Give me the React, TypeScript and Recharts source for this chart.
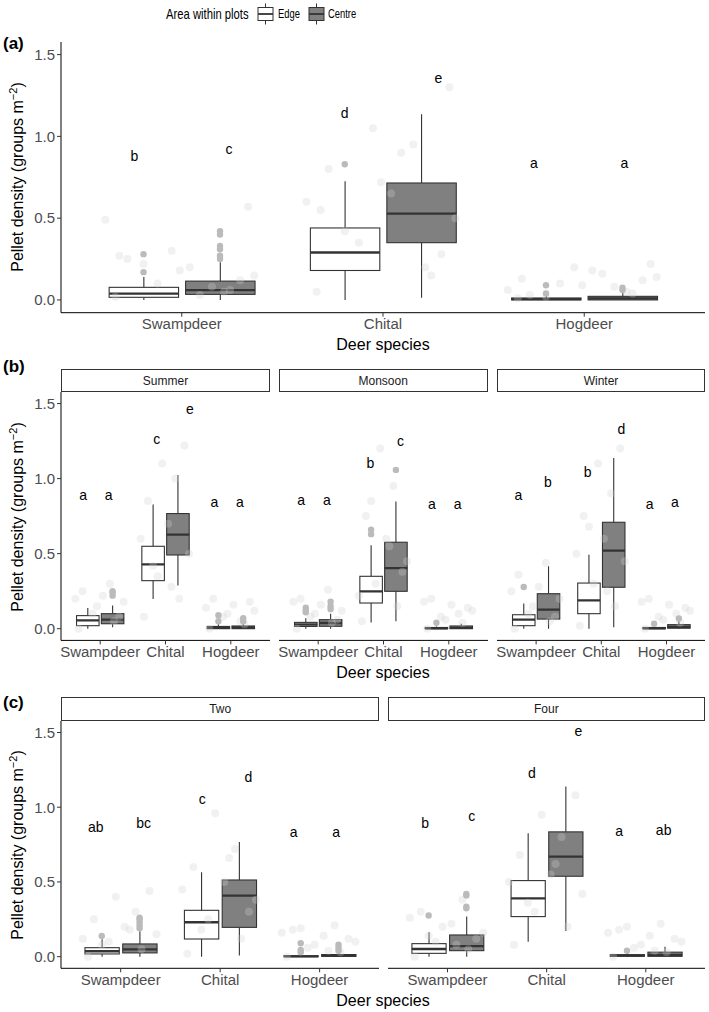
import React from 'react';
import { ComposedChart, Bar, Scatter, XAxis, YAxis } from 'recharts';

const FONT = "'Liberation Sans', Arial, Helvetica, sans-serif";

const species = ['Swampdeer', 'Chital', 'Hogdeer'];
const yTicks = [0, 0.5, 1, 1.5];

// horizontal jitter used for the raw plot points (category units)
const jitterDx = [-0.33, 0.21, -0.12, 0.36, 0.04, -0.27, 0.15, -0.05, 0.29, -0.38, 0.09, -0.19, 0.33, -0.01, 0.24, -0.31];

// boxes are [min, q1, median, q3, max] per species
// (a) pooled
const allEdge = [[0, 0.016, 0.038, 0.077, 0.14], [0, 0.18, 0.29, 0.44, 0.725], [0, 0, 0.005, 0.012, 0.025]];
const allCentre = [[0, 0.034, 0.06, 0.115, 0.23], [0.014, 0.35, 0.528, 0.715, 1.136], [0, 0, 0.01, 0.022, 0.045]];
const allEdgeOut = [[0.17, 0.28], [0.83], [0.04, 0.09]];
const allCentreOut = [[0.25, 0.27, 0.31, 0.33, 0.4, 0.42], [], [0.06, 0.075]];
const allJitter = [
  [0.02, 0.05, 0.1, 0.15, 0.2, 0.25, 0.08, 0.3, 0.12, 0.49, 0.03, 0.22, 0.57, 0.18, 0.06, 0.27],
  [0.05, 0.2, 0.35, 0.5, 0.65, 0.8, 0.95, 1.05, 0.28, 0.6, 0.9, 0.42, 1.3, 0.72, 0.15, 0.55],
  [0.01, 0.05, 0.1, 0.14, 0.18, 0.03, 0.08, 0.2, 0.12, 0.06, 0.16, 0.02, 0.22, 0.09, 0.04, 0.13],
];
const allLetters = [['b', 'c'], ['d', 'e'], ['a', 'a']];
const allLetterY = [[0.88, 0.92], [1.14, 1.355], [0.837, 0.837]];

// (b) seasons
const summerEdge = [[0, 0.02, 0.056, 0.087, 0.138], [0.198, 0.32, 0.429, 0.549, 0.827], [0, 0, 0.006, 0.015, 0.03]];
const summerCentre = [[0.01, 0.033, 0.06, 0.1, 0.155], [0.287, 0.491, 0.627, 0.767, 1.024], [0, 0, 0.008, 0.018, 0.035]];
const summerEdgeOut = [[], [], [0.05, 0.09]];
const summerCentreOut = [[0.22, 0.24, 0.25], [], [0.05, 0.07]];
const summerJitter = [
  [0.0, 0.05, 0.1, 0.18, 0.22, 0.25, 0.3, 0.15, 0.08, 0.2],
  [0.08, 0.2, 0.35, 0.5, 0.7, 0.85, 1.0, 1.1, 1.22, 0.6, 0.28, 0.42],
  [0.0, 0.03, 0.08, 0.12, 0.16, 0.2, 0.05, 0.1, 0.18, 0.14],
];
const summerLetters = [['a', 'a'], ['c', 'e'], ['a', 'a']];
const summerLetterY = [[0.889, 0.889], [1.267, 1.467], [0.842, 0.842]];

const monsoonEdge = [[0, 0.015, 0.028, 0.042, 0.07], [0.042, 0.171, 0.249, 0.349, 0.556], [0, 0, 0.003, 0.008, 0.015]];
const monsoonCentre = [[0, 0.016, 0.038, 0.06, 0.1], [0.049, 0.249, 0.404, 0.576, 0.847], [0, 0, 0.006, 0.018, 0.033]];
const monsoonEdgeOut = [[0.11, 0.12, 0.14], [0.63, 0.66], [0.04]];
const monsoonCentreOut = [[0.13, 0.15, 0.18], [1.058], []];
const monsoonJitter = [
  [0.0, 0.04, 0.08, 0.12, 0.16, 0.2, 0.26, 0.1, 0.06, 0.18],
  [0.05, 0.15, 0.3, 0.45, 0.6, 0.75, 0.95, 1.2, 0.38, 0.22, 0.55, 0.85],
  [0.0, 0.04, 0.08, 0.12, 0.16, 0.2, 0.1, 0.06, 0.14, 0.18],
];
const monsoonLetters = [['a', 'a'], ['b', 'c'], ['a', 'a']];
const monsoonLetterY = [[0.86, 0.86], [1.104, 1.249], [0.833, 0.833]];

const winterEdge = [[0, 0.02, 0.06, 0.093, 0.167], [0, 0.1, 0.189, 0.304, 0.493], [0, 0, 0.003, 0.008, 0.015]];
const winterCentre = [[0, 0.064, 0.127, 0.233, 0.416], [0.009, 0.276, 0.52, 0.709, 1.138], [0, 0.003, 0.012, 0.027, 0.05]];
const winterEdgeOut = [[0.278], [], [0.033]];
const winterCentreOut = [[], [], [0.068]];
const winterJitter = [
  [0.0, 0.05, 0.1, 0.2, 0.28, 0.36, 0.44, 0.15, 0.08, 0.25],
  [0.02, 0.15, 0.3, 0.45, 0.6, 0.75, 0.9, 1.1, 1.2, 0.5, 0.25, 0.68],
  [0.0, 0.04, 0.08, 0.12, 0.16, 0.2, 0.1, 0.06, 0.14, 0.18],
];
const winterLetters = [['a', 'b'], ['b', 'd'], ['a', 'a']];
const winterLetterY = [[0.889, 0.978], [1.044, 1.331], [0.833, 0.842]];

// (c) two vs four
const twoEdge = [[0, 0.018, 0.036, 0.06, 0.116], [0, 0.118, 0.23, 0.31, 0.565], [0, 0, 0.002, 0.006, 0.012]];
const twoCentre = [[0, 0.025, 0.049, 0.085, 0.17], [0.007, 0.196, 0.408, 0.513, 0.768], [0, 0.002, 0.007, 0.014, 0.025]];
const twoEdgeOut = [[0.138], [], [0.03, 0.045, 0.09]];
const twoCentreOut = [[0.19, 0.21, 0.23, 0.25, 0.26], [], [0.04, 0.06, 0.08]];
const twoJitter = [
  [0.0, 0.05, 0.1, 0.15, 0.2, 0.25, 0.3, 0.4, 0.44, 0.12, 0.18, 0.08],
  [0.02, 0.12, 0.25, 0.38, 0.5, 0.6, 0.72, 0.96, 0.3, 0.45, 0.66, 0.18],
  [0.0, 0.03, 0.06, 0.1, 0.14, 0.18, 0.21, 0.08, 0.12, 0.16, 0.04, 0.19],
];
const twoLetters = [['ab', 'bc'], ['c', 'd'], ['a', 'a']];
const twoLetterY = [[0.87, 0.897], [1.054, 1.2], [0.837, 0.837]];

const fourEdge = [[0, 0.022, 0.051, 0.087, 0.163], [0.1, 0.268, 0.39, 0.509, 0.826], [0, 0.002, 0.008, 0.013, 0.022]];
const fourCentre = [[0, 0.04, 0.071, 0.145, 0.268], [0.172, 0.538, 0.67, 0.835, 1.138], [0, 0.002, 0.012, 0.03, 0.067]];
const fourEdgeOut = [[0.275], [], [0.04]];
const fourCentreOut = [[0.324, 0.335, 0.41, 0.42], [], []];
const fourJitter = [
  [0.0, 0.05, 0.1, 0.16, 0.22, 0.3, 0.38, 0.2, 0.12, 0.26, 0.08, 0.14],
  [0.08, 0.2, 0.3, 0.42, 0.55, 0.68, 0.8, 0.95, 1.08, 0.5, 0.62, 0.36],
  [0.0, 0.03, 0.06, 0.1, 0.14, 0.18, 0.22, 0.08, 0.12, 0.16, 0.04, 0.2],
];
const fourLetters = [['b', 'c'], ['d', 'e'], ['a', 'ab']];
const fourLetterY = [[0.893, 0.942], [1.232, 1.511], [0.842, 0.848]];

// layout / styling
const Y_DOMAIN: [number, number] = [-0.078, 1.577];
const BOX_W = 0.345;
const DODGE = 0.19;
const X_AXIS_H = 30;
const Y_AXIS_W = 61;
const EDGE_FILL = '#ffffff';
const CENTRE_FILL = '#808080';
const LINE = '#333333';

type Facet = {
  edge: number[][];
  centre: number[][];
  edgeOut: number[][];
  centreOut: number[][];
  jitter: number[][];
  letters: string[][];
  letterY: number[][];
  letterDx: number[][];
};

const panels: { id: string; facet: Facet; left: number; top: number; width: number; height: number; showY: boolean }[] = [
  { id: 'all', facet: { edge: allEdge, centre: allCentre, edgeOut: allEdgeOut, centreOut: allCentreOut, jitter: allJitter, letters: allLetters, letterY: allLetterY, letterDx: [[-0.235, 0.235], [-0.19, 0.275], [-0.25, 0.2]] }, left: 61, top: 42, width: 644, height: 270.7, showY: true },
  { id: 'summer', facet: { edge: summerEdge, centre: summerCentre, edgeOut: summerEdgeOut, centreOut: summerCentreOut, jitter: summerJitter, letters: summerLetters, letterY: summerLetterY, letterDx: [[-0.26, 0.13], [-0.135, 0.375], [-0.25, 0.14]] }, left: 61, top: 392.3, width: 209, height: 248.4, showY: true },
  { id: 'monsoon', facet: { edge: monsoonEdge, centre: monsoonCentre, edgeOut: monsoonEdgeOut, centreOut: monsoonCentreOut, jitter: monsoonJitter, letters: monsoonLetters, letterY: monsoonLetterY, letterDx: [[-0.26, 0.135], [-0.2, 0.26], [-0.26, 0.135]] }, left: 278.7, top: 392.3, width: 209, height: 248.4, showY: false },
  { id: 'winter', facet: { edge: winterEdge, centre: winterCentre, edgeOut: winterEdgeOut, centreOut: winterCentreOut, jitter: winterJitter, letters: winterLetters, letterY: winterLetterY, letterDx: [[-0.27, 0.18], [-0.21, 0.31], [-0.26, 0.13]] }, left: 496.7, top: 392.3, width: 208.6, height: 248.4, showY: false },
  { id: 'two', facet: { edge: twoEdge, centre: twoCentre, edgeOut: twoEdgeOut, centreOut: twoCentreOut, jitter: twoJitter, letters: twoLetters, letterY: twoLetterY, letterDx: [[-0.25, 0.23], [-0.18, 0.285], [-0.26, 0.167]] }, left: 61, top: 721, width: 318.3, height: 247.3, showY: true },
  { id: 'four', facet: { edge: fourEdge, centre: fourCentre, edgeOut: fourEdgeOut, centreOut: fourCentreOut, jitter: fourJitter, letters: fourLetters, letterY: fourLetterY, letterDx: [[-0.225, 0.245], [-0.15, 0.32], [-0.27, 0.18]] }, left: 387.7, top: 721, width: 317.3, height: 247.3, showY: false },
];

const strips = [
  { label: 'Summer', left: 61, top: 369.3, width: 209, height: 23 },
  { label: 'Monsoon', left: 278.7, top: 369.3, width: 209, height: 23 },
  { label: 'Winter', left: 496.7, top: 369.3, width: 208.6, height: 23 },
  { label: 'Two', left: 61, top: 697.3, width: 318.3, height: 23.7 },
  { label: 'Four', left: 387.7, top: 697.3, width: 317.3, height: 23.7 },
];

function BoxShape(props: any) {
  const { x, y, width, height, stats, fill } = props;
  if (x == null || y == null || !Array.isArray(stats)) return null;
  const top = Math.min(y, y + height);
  const bottom = Math.max(y, y + height);
  const [mn, q1, md, q3, mx] = stats;
  const span = mx - mn;
  const py = (v: number) => (span > 0 ? bottom - ((v - mn) / span) * (bottom - top) : bottom);
  const cx = x + width / 2;
  return (
    <g>
      <line x1={cx} x2={cx} y1={py(mx)} y2={py(q3)} stroke={LINE} strokeWidth={1.1} />
      <line x1={cx} x2={cx} y1={py(q1)} y2={py(mn)} stroke={LINE} strokeWidth={1.1} />
      <rect x={x} y={py(q3)} width={width} height={Math.max(py(q1) - py(q3), 0)} fill={fill} stroke={LINE} strokeWidth={1.1} />
      <line x1={x} x2={x + width} y1={py(md)} y2={py(md)} stroke={LINE} strokeWidth={2.3} />
    </g>
  );
}

const pointPos = (p: any) => ({
  cx: p.cx ?? (p.x ?? 0) + (p.width ?? 0) / 2,
  cy: p.cy ?? (p.y ?? 0) + (p.height ?? 0) / 2,
});

const whiskerRange = (key: 'edge' | 'centre') => (r: any) => {
  const s = r ? r[key] : undefined;
  return Array.isArray(s) ? [s[0], s[4]] : undefined;
};

function FacetChart({ facet, left, top, width, height, showY }: { facet: Facet; left: number; top: number; width: number; height: number; showY: boolean }) {
  const axisW = showY ? Y_AXIS_W : 0;
  const unit = width / 3.2;
  const rows = species.map((s, i) => ({ species: s, edge: facet.edge[i], centre: facet.centre[i] }));

  const jitter = facet.jitter.flatMap((ys, i) => ys.map((v, j) => ({ x: i + 1 + jitterDx[j % jitterDx.length], y: v })));
  const outliers = [
    ...facet.edgeOut.flatMap((ys, i) => ys.map((v) => ({ x: i + 1 - DODGE, y: v }))),
    ...facet.centreOut.flatMap((ys, i) => ys.map((v) => ({ x: i + 1 + DODGE, y: v }))),
  ];
  const labels = facet.letters.flatMap((pair, i) =>
    pair.map((lab, k) => ({ x: i + 1 + facet.letterDx[i][k], y: facet.letterY[i][k], label: lab }))
  );

  return (
    <div style={{ position: 'absolute', left: left - axisW, top }}>
      <ComposedChart
        width={width + axisW}
        height={height + X_AXIS_H}
        data={rows}
        margin={{ top: 0, right: 0, bottom: 0, left: 0 }}
        barSize={BOX_W * unit}
        barGap={(2 * DODGE - BOX_W) * unit}
      >
        <XAxis
          xAxisId="cat"
          dataKey="species"
          type="category"
          height={X_AXIS_H}
          padding={{ left: width / 32, right: width / 32 }}
          interval={0}
          tickSize={4}
          tickMargin={2}
          tick={{ fontSize: 15, fill: '#4d4d4d', fontFamily: FONT }}
          axisLine={{ stroke: '#000', strokeWidth: 1 }}
          tickLine={{ stroke: LINE }}
        />
        <XAxis xAxisId="n" dataKey="x" type="number" domain={[0.4, 3.6]} allowDataOverflow hide />
        <YAxis
          dataKey="y"
          type="number"
          domain={Y_DOMAIN}
          allowDataOverflow
          ticks={yTicks}
          interval={0}
          hide={!showY}
          width={axisW}
          tickSize={4}
          tickMargin={2}
          tickFormatter={(v: number) => v.toFixed(1)}
          tick={{ fontSize: 15, fill: '#4d4d4d', fontFamily: FONT }}
          axisLine={{ stroke: '#000', strokeWidth: 1 }}
          tickLine={{ stroke: LINE }}
        />
        <Bar
          xAxisId="cat"
          dataKey={whiskerRange('edge')}
          name="Edge"
          isAnimationActive={false}
          shape={(p: any) => <BoxShape {...p} stats={p.payload?.edge} fill={EDGE_FILL} />}
        />
        <Bar
          xAxisId="cat"
          dataKey={whiskerRange('centre')}
          name="Centre"
          isAnimationActive={false}
          shape={(p: any) => <BoxShape {...p} stats={p.payload?.centre} fill={CENTRE_FILL} />}
        />
        <Scatter
          xAxisId="n"
          data={jitter}
          isAnimationActive={false}
          shape={(p: any) => {
            const { cx, cy } = pointPos(p);
            return <circle cx={cx} cy={cy} r={4} fill="#d2d2d2" fillOpacity={0.3} />;
          }}
        />
        <Scatter
          xAxisId="n"
          data={outliers}
          isAnimationActive={false}
          shape={(p: any) => {
            const { cx, cy } = pointPos(p);
            return <circle cx={cx} cy={cy} r={3.2} fill="#bbbbbb" />;
          }}
        />
        <Scatter
          xAxisId="n"
          data={labels}
          isAnimationActive={false}
          shape={(p: any) => {
            const { cx, cy } = pointPos(p);
            return (
              <text x={cx} y={cy} textAnchor="middle" dominantBaseline="central" fontSize={14} fontFamily={FONT} fill="#000">
                {p.payload?.label}
              </text>
            );
          }}
        />
      </ComposedChart>
    </div>
  );
}

function LegendKey({ fill, left }: { fill: string; left: number }) {
  return (
    <svg width={17} height={22} style={{ position: 'absolute', left, top: 3 }}>
      <line x1={8.5} x2={8.5} y1={0.5} y2={21.5} stroke={LINE} strokeWidth={1} />
      <rect x={1} y={4.5} width={15} height={13} fill={fill} stroke={LINE} strokeWidth={1} />
      <line x1={1} x2={16} y1={11} y2={11} stroke={LINE} strokeWidth={1.8} />
    </svg>
  );
}

const narrow = (text: string, left: number, size: number) => (
  <div
    style={{
      position: 'absolute',
      left,
      top: 4,
      height: 20,
      lineHeight: '20px',
      fontSize: size,
      whiteSpace: 'nowrap',
      color: '#000',
      transform: 'scaleX(0.75)',
      transformOrigin: 'left center',
    }}
  >
    {text}
  </div>
);

const yTitle = (cy: number) => (
  <div
    style={{
      position: 'absolute',
      left: 18 - 160,
      top: cy - 11,
      width: 320,
      height: 22,
      lineHeight: '22px',
      textAlign: 'center',
      transform: 'rotate(-90deg)',
      fontSize: 16,
      color: '#000',
      whiteSpace: 'nowrap',
    }}
  >
    Pellet density (groups m<sup style={{ fontSize: 11, verticalAlign: 'top', lineHeight: '12px' }}>−2</sup>)
  </div>
);

const xTitle = (cy: number) => (
  <div style={{ position: 'absolute', left: 61, width: 644, top: cy - 10, height: 20, lineHeight: '20px', textAlign: 'center', fontSize: 16, color: '#000' }}>
    Deer species
  </div>
);

const tag = (text: string, cy: number) => (
  <div style={{ position: 'absolute', left: 3, top: cy - 10, height: 20, lineHeight: '20px', fontSize: 17, fontWeight: 'bold', color: '#000' }}>
    {text}
  </div>
);

export default function App() {
  return (
    <div style={{ position: 'absolute', left: 0, top: 0, width: 709, height: 1012, background: '#fff', fontFamily: FONT, overflow: 'hidden' }}>
      {/* legend */}
      {narrow('Area within plots', 166, 15)}
      <LegendKey fill={EDGE_FILL} left={256.5} />
      {narrow('Edge', 277.7, 12.5)}
      <LegendKey fill={CENTRE_FILL} left={307.5} />
      {narrow('Centre', 328, 12.5)}

      {tag('(a)', 44)}
      {tag('(b)', 367)}
      {tag('(c)', 703)}

      {yTitle(177)}
      {yTitle(516.5)}
      {yTitle(844.7)}

      {xTitle(345)}
      {xTitle(673)}
      {xTitle(1000.7)}

      {strips.map((s) => (
        <div
          key={s.label}
          style={{
            position: 'absolute',
            left: s.left,
            top: s.top,
            width: s.width,
            height: s.height,
            boxSizing: 'border-box',
            border: '1.3px solid #333',
            background: '#fff',
            fontSize: 12,
            color: '#1a1a1a',
            display: 'flex',
            alignItems: 'center',
            justifyContent: 'center',
          }}
        >
          {s.label}
        </div>
      ))}

      {panels.map((p) => (
        <FacetChart key={p.id} facet={p.facet} left={p.left} top={p.top} width={p.width} height={p.height} showY={p.showY} />
      ))}
    </div>
  );
}
